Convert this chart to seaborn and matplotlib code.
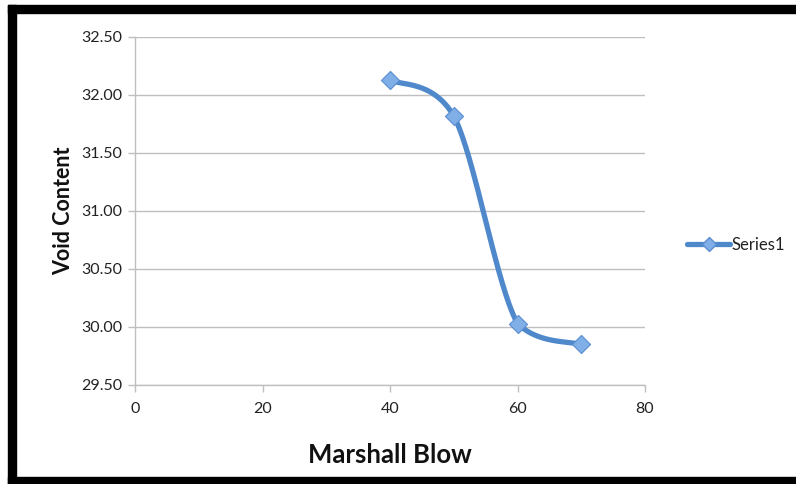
import numpy as np
import pandas as pd
import matplotlib
matplotlib.use("Agg")
import matplotlib.pyplot as plt
import seaborn as sns
from matplotlib.patches import Rectangle
from matplotlib.lines import Line2D

# Data
marshall_blow = [40, 50, 60, 70]
void_content = [32.13, 31.82, 30.03, 29.85]
series_name = "Series1"
x_ticks = [0, 20, 40, 60, 80]
y_ticks = [29.5, 30.0, 30.5, 31.0, 31.5, 32.0, 32.5]

sns.set_theme(style="white")
plt.rcParams['font.family'] = ['Lato', 'DejaVu Sans']

W, H = 796, 484
fig = plt.figure(figsize=(W / 100, H / 100), dpi=100)
ax = fig.add_axes([135 / W, 1 - 385 / H, 510 / W, 348 / H])

xmin, xmax = 0, 80
ymin, ymax = 29.5, 32.5
sx = 510 / (xmax - xmin)
sy = 348 / (ymax - ymin)

# Excel-style smoothing (Bezier, tension 1/6) in pixel space, control points clamped
px = np.array(marshall_blow, float) * sx
py = np.array(void_content, float) * sy
pts = np.column_stack([px, py])
n = len(pts)
curve = []
t = np.linspace(0, 1, 80)
for i in range(n - 1):
    p0 = pts[max(i - 1, 0)]
    p1 = pts[i]
    p2 = pts[i + 1]
    p3 = pts[min(i + 2, n - 1)]
    c1 = p1 + (p2 - p0) / 6
    c2 = p2 - (p3 - p1) / 6
    lo, hi = min(p1[1], p2[1]), max(p1[1], p2[1])
    c1[1] = np.clip(c1[1], lo, hi)
    c2[1] = np.clip(c2[1], lo, hi)
    seg = ((1 - t)[:, None] ** 3 * p1 + 3 * ((1 - t) ** 2 * t)[:, None] * c1
           + 3 * ((1 - t) * t ** 2)[:, None] * c2 + (t ** 3)[:, None] * p2)
    curve.append(seg if i == 0 else seg[1:])
curve = np.vstack(curve)
smooth = pd.DataFrame({"x": curve[:, 0] / sx, "y": curve[:, 1] / sy})
df = pd.DataFrame({"Marshall Blow": marshall_blow, "Void Content": void_content})

line_color = "#5089CB"
sns.lineplot(data=smooth, x="x", y="y", sort=False, ax=ax, color=line_color,
             linewidth=3.8, solid_capstyle="round", zorder=3)
sns.scatterplot(data=df, x="Marshall Blow", y="Void Content", ax=ax, marker="D",
                s=85, color="#80AEE6", edgecolor="#5A8ED0", linewidth=0.8, zorder=4)

ax.set_xlim(xmin, xmax)
ax.set_ylim(ymin, ymax)
ax.set_xticks(x_ticks)
ax.set_yticks(y_ticks)
ax.set_yticklabels([f"{v:.2f}" for v in y_ticks])
ax.yaxis.grid(True, color="#BFBFBF", linewidth=1.0)
ax.xaxis.grid(False)
for s in ["top", "right"]:
    ax.spines[s].set_visible(False)
for s in ["left", "bottom"]:
    ax.spines[s].set_color("#BFBFBF")
    ax.spines[s].set_linewidth(1.0)
ax.tick_params(axis="both", which="major", length=5, width=1.0, color="#BFBFBF",
               labelsize=11.5, labelcolor="#222222", direction="out",
               left=True, bottom=True)
ax.tick_params(axis="x", pad=7)
ax.tick_params(axis="y", pad=4)
ax.set_xlabel("Marshall Blow", fontsize=18.5, fontweight="bold", color="#111111", labelpad=20)
ax.set_ylabel("Void Content", fontsize=15.5, fontweight="bold", color="#111111", labelpad=5)

handle = Line2D([0], [0], color=line_color, linewidth=3.8, marker="D", markersize=7,
                markerfacecolor="#80AEE6", markeredgecolor="#5A8ED0")
fig.legend([handle], [series_name], loc="center left", bbox_to_anchor=(672 / W, 1 - 245 / H),
           frameon=False, fontsize=12, handlelength=2.6, handletextpad=0.05,
           labelcolor="#222222")

# Frame around the picture
fig.add_artist(Rectangle((8 / W, 1 - 13 / H), 1 - 8 / W, 8 / H, transform=fig.transFigure,
                         color="black", zorder=10))
fig.add_artist(Rectangle((8 / W, 0), 8 / W, 1 - 5 / H, transform=fig.transFigure,
                         color="black", zorder=10))
fig.add_artist(Rectangle((8 / W, 0), 1 - 8 / W, 7 / H, transform=fig.transFigure,
                         color="black", zorder=10))

fig.savefig("out.png", dpi=100)
